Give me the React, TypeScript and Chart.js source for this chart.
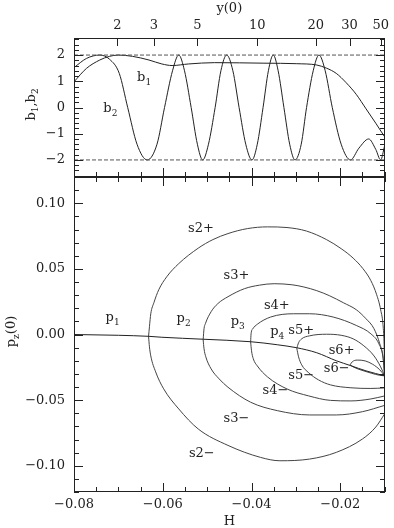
import React, { useEffect, useRef } from 'react';
import { Chart, registerables } from 'chart.js';

Chart.register(...registerables);

const FONT_FAMILY = '"DejaVu Serif", "Liberation Serif", serif';
const INK = '#222222';

// ---------- axes ----------
const hRange = [-0.08, -0.01];
const bRange = [-2.65, 2.65];
const pRange = [-0.12, 0.12];
const hTickValues = [-0.08, -0.06, -0.04, -0.02];
const hTickLabels = ['−0.08', '−0.06', '−0.04', '−0.02'];
const bTickValues = [-2, -1, 0, 1, 2];
const bTickLabels = ['−2', '−1', '0', '1', '2'];
const pTickValues = [-0.1, -0.05, 0, 0.05, 0.1];
const pTickLabels = ['−0.10', '−0.05', '0.00', '0.05', '0.10'];
const y0TickLabels = ['2', '3', '5', '10', '20', '30', '50'];
const y0TickH = [-0.0702, -0.062, -0.0522, -0.0387, -0.0255, -0.0179, -0.0109];

// ---------- top panel: b1, b2 vs H ----------
const b1H = [-0.08, -0.0772, -0.0742, -0.072, -0.07, -0.0668, -0.0631, -0.0602, -0.0579, -0.0542, -0.0483, -0.0372, -0.0298, -0.0253, -0.0231, -0.0209, -0.0187, -0.0164, -0.0142, -0.012, -0.01];
const b1Val = [0.98, 1.49, 1.81, 1.95, 2.0, 1.95, 1.81, 1.66, 1.6, 1.66, 1.71, 1.69, 1.67, 1.62, 1.5, 1.3, 0.95, 0.5, -0.05, -0.6, -1.12];

const b2H = [-0.08, -0.0772, -0.0742, -0.072, -0.0698, -0.0679, -0.0658, -0.0635, -0.0613, -0.0596, -0.0578, -0.0564, -0.0551, -0.0536, -0.0522, -0.051, -0.0497, -0.0482, -0.0469, -0.0456, -0.0442, -0.0428, -0.0413, -0.0399, -0.0387, -0.0374, -0.0362, -0.0351, -0.034, -0.0327, -0.0314, -0.0302, -0.0288, -0.0276, -0.0261, -0.0248, -0.0234, -0.0218, -0.0198, -0.0177, -0.0158, -0.0136, -0.012, -0.0109, -0.01];
const b2Val = [1.52, 1.87, 2.0, 1.84, 1.3, 0.0, -1.4, -2.0, -1.4, 0.0, 1.4, 2.0, 1.4, 0.0, -1.4, -2.0, -1.4, 0.0, 1.4, 2.0, 1.4, 0.0, -1.4, -2.0, -1.4, 0.0, 1.4, 2.0, 1.4, 0.0, -1.4, -2.0, -1.4, 0.0, 1.4, 2.0, 1.4, 0.0, -1.4, -2.0, -1.55, -1.2, -1.6, -2.0, -1.45];

const limitH = [-0.08, -0.01];
const upperLimit = [2, 2];
const lowerLimit = [-2, -2];

// ---------- bottom panel: pz(0) vs H ----------
const mainH = [-0.08, -0.07, -0.0631, -0.0602, -0.0509, -0.0402, -0.0342, -0.0298, -0.0253, -0.0209, -0.0176, -0.0142, -0.01];
const mainP = [0.0, -0.0006, -0.0014, -0.0021, -0.0036, -0.0055, -0.0078, -0.0101, -0.0139, -0.02, -0.0238, -0.0277, -0.0315];

const s2PlusH = [-0.0632, -0.063, -0.0627, -0.062, -0.0609, -0.0591, -0.0564, -0.052, -0.0487, -0.0453, -0.0409, -0.0364, -0.032, -0.0276, -0.0231, -0.0198, -0.0171, -0.0149, -0.0131, -0.0118, -0.0109, -0.0103, -0.0101, -0.01];
const s2PlusP = [-0.0014, 0.0059, 0.0158, 0.0242, 0.0341, 0.044, 0.054, 0.0658, 0.0723, 0.0769, 0.0807, 0.082, 0.0815, 0.0788, 0.0723, 0.0654, 0.0582, 0.0502, 0.041, 0.0303, 0.0188, 0.0044, -0.0109, -0.0315];
const s2MinusH = [-0.0632, -0.063, -0.0627, -0.0616, -0.0598, -0.0564, -0.052, -0.0453, -0.038, -0.0336, -0.0269, -0.0209, -0.015, -0.012, -0.01];
const s2MinusP = [-0.0014, -0.0094, -0.0163, -0.0285, -0.0414, -0.0567, -0.072, -0.0845, -0.0936, -0.0962, -0.0949, -0.0898, -0.0796, -0.0705, -0.0605];

const s3PlusH = [-0.0509, -0.0507, -0.0504, -0.0491, -0.0476, -0.0453, -0.0416, -0.0382, -0.0349, -0.0309, -0.0282, -0.0253, -0.0224, -0.0193, -0.0164, -0.0142, -0.0124, -0.0111, -0.0103, -0.01];
const s3PlusP = [-0.004, 0.0044, 0.0082, 0.0174, 0.0235, 0.0288, 0.0349, 0.0376, 0.0387, 0.0379, 0.0362, 0.0334, 0.0295, 0.0242, 0.0189, 0.012, 0.0044, -0.0071, -0.0185, -0.0315];
const s3MinusH = [-0.0509, -0.0507, -0.0503, -0.0491, -0.0473, -0.0453, -0.0402, -0.0342, -0.0269, -0.0209, -0.015, -0.01];
const s3MinusP = [-0.004, -0.0109, -0.017, -0.0262, -0.0338, -0.0402, -0.0516, -0.058, -0.0613, -0.0613, -0.0588, -0.054];

const s4PlusH = [-0.0402, -0.0401, -0.0397, -0.0387, -0.0357, -0.0305, -0.0269, -0.0216, -0.0164, -0.0131, -0.0113, -0.0104, -0.01];
const s4PlusP = [-0.0056, 0.0005, 0.0044, 0.0078, 0.0133, 0.0158, 0.0158, 0.0133, 0.0069, 0.0005, -0.0071, -0.017, -0.0315];
const s4MinusH = [-0.0402, -0.04, -0.0396, -0.0387, -0.0364, -0.032, -0.0271, -0.0222, -0.0176, -0.0131, -0.01];
const s4MinusP = [-0.0056, -0.0124, -0.0185, -0.0239, -0.0323, -0.0415, -0.0468, -0.0502, -0.0506, -0.0491, -0.0468];

const s5PlusH = [-0.0298, -0.0294, -0.0287, -0.0269, -0.0231, -0.0198, -0.0171, -0.0147, -0.0124, -0.0109, -0.01];
const s5PlusP = [-0.0105, -0.0063, -0.0033, -0.001, 0.0002, -0.0006, -0.0033, -0.0086, -0.0163, -0.0247, -0.0315];
const s5MinusH = [-0.0298, -0.0294, -0.0287, -0.0271, -0.0249, -0.0222, -0.0176, -0.0131, -0.01];
const s5MinusP = [-0.0105, -0.017, -0.0231, -0.0292, -0.0346, -0.0384, -0.0406, -0.0411, -0.0407];

const s6PlusH = [-0.0178, -0.0173, -0.0162, -0.0144, -0.0127, -0.0111, -0.01];
const s6PlusP = [-0.0231, -0.0208, -0.0195, -0.0201, -0.0227, -0.0269, -0.0315];
const s6MinusH = [-0.0178, -0.0169, -0.0151, -0.0129, -0.0111, -0.01];
const s6MinusP = [-0.0231, -0.025, -0.0273, -0.0296, -0.0311, -0.0315];

// ---------- in-plot labels (text, subscript, H, value at baseline) ----------
const topLabelText = ['b', 'b'];
const topLabelSub = ['1', '2'];
const topLabelH = [-0.0642, -0.0718];
const topLabelVal = [1.01, -0.17];

const botLabelText = ['p', 'p', 'p', 'p', 's2+', 's3+', 's4+', 's5+', 's6+', 's6−', 's5−', 's4−', 's3−', 's2−'];
const botLabelSub = ['1', '2', '3', '4', '', '', '', '', '', '', '', '', '', ''];
const botLabelH = [-0.0713, -0.0553, -0.0431, -0.0342, -0.0514, -0.0434, -0.0343, -0.0288, -0.0197, -0.0208, -0.0288, -0.0346, -0.0434, -0.0512];
const botLabelVal = [0.0105, 0.0097, 0.0074, -0.0002, 0.0784, 0.0425, 0.0196, 0.0005, -0.0147, -0.0285, -0.0338, -0.0452, -0.0666, -0.0933];

const pts = (hs: number[], vs: number[]) => hs.map((h, i) => ({ x: h, y: vs[i] }));

function drawParts(ctx: CanvasRenderingContext2D, parts: [string, string][], cx: number, baseY: number, size: number) {
  const big = `${size}px ${FONT_FAMILY}`;
  const small = `${Math.round(size * 0.7)}px ${FONT_FAMILY}`;
  let total = 0;
  const widths: [number, number][] = parts.map(([t, s]) => {
    ctx.font = big;
    const w1 = ctx.measureText(t).width;
    ctx.font = small;
    const w2 = s ? ctx.measureText(s).width : 0;
    total += w1 + w2;
    return [w1, w2];
  });
  let x = cx - total / 2;
  ctx.textAlign = 'left';
  ctx.textBaseline = 'alphabetic';
  parts.forEach(([t, s], i) => {
    ctx.font = big;
    ctx.fillText(t, x, baseY);
    x += widths[i][0];
    if (s) {
      ctx.font = small;
      ctx.fillText(s, x, baseY + size * 0.3);
      x += widths[i][1];
    }
  });
}

const decorPlugin = {
  id: 'decor',
  afterDraw(chart: any) {
    const { ctx, scales } = chart;
    const xs = scales.x;
    const yT = scales.yTop;
    const yB = scales.yBot;
    const L = Math.round(xs.left);
    const R = Math.round(xs.right);
    ctx.save();
    ctx.strokeStyle = INK;
    ctx.fillStyle = INK;
    ctx.lineWidth = 1;
    const seg = (a: number, b: number, c: number, d: number) => {
      ctx.beginPath();
      ctx.moveTo(a, b);
      ctx.lineTo(c, d);
      ctx.stroke();
    };
    const tT = Math.round(yT.top), tB = Math.round(yT.bottom), bT = Math.round(yB.top), bB = Math.round(yB.bottom);
    // frames
    seg(L + 0.5, tT, L + 0.5, bB);
    seg(R - 0.5, tT, R - 0.5, bB);
    seg(L, tT + 0.5, R, tT + 0.5);
    seg(L, bB - 0.5, R, bB - 0.5);
    ctx.fillRect(L, tB - 1, R - L, 2);

    // H ticks
    const hCount = Math.round((hRange[1] - hRange[0]) / 0.005);
    for (let k = 0; k <= hCount; k++) {
      const v = hRange[0] + k * 0.005;
      const major = Math.abs(v / 0.02 - Math.round(v / 0.02)) < 1e-6;
      const len = major ? 9 : 5;
      const px = Math.round(xs.getPixelForValue(v)) + 0.5;
      seg(px, bB, px, bB - len);
      seg(px, bT, px, bT + len);
      seg(px, tB, px, tB - len);
    }
    // y(0) ticks on top
    y0TickH.forEach((h) => {
      const px = Math.round(xs.getPixelForValue(h)) + 0.5;
      seg(px, tT, px, tT + 8);
    });
    // b ticks
    for (let k = -14; k <= 14; k++) {
      const v = k * 0.2;
      if (v < bRange[0] || v > bRange[1]) continue;
      const major = k % 5 === 0;
      const len = major ? 9 : 5;
      const py = Math.round(yT.getPixelForValue(v)) + 0.5;
      seg(L, py, L + len, py);
      seg(R, py, R - len, py);
    }
    // p ticks
    for (let k = -12; k <= 12; k++) {
      const v = k * 0.01;
      if (v < pRange[0] - 1e-9 || v > pRange[1] + 1e-9) continue;
      const major = k % 5 === 0;
      const len = major ? 9 : 5;
      const py = Math.round(yB.getPixelForValue(v)) + 0.5;
      seg(L, py, L + len, py);
      seg(R, py, R - len, py);
    }

    // in-plot labels
    topLabelText.forEach((t, i) => {
      drawParts(ctx, [[t, topLabelSub[i]]], xs.getPixelForValue(topLabelH[i]), yT.getPixelForValue(topLabelVal[i]), 13);
    });
    botLabelText.forEach((t, i) => {
      drawParts(ctx, [[t, botLabelSub[i]]], xs.getPixelForValue(botLabelH[i]), yB.getPixelForValue(botLabelVal[i]), 13);
    });

    // rotated y-axis titles
    ctx.save();
    ctx.translate(34.5, (yT.top + yT.bottom) / 2 - 3);
    ctx.rotate(-Math.PI / 2);
    drawParts(ctx, [['b', '1'], [',', ''], ['b', '2']], 0, 0, 13);
    ctx.restore();
    ctx.save();
    ctx.translate(15, (yB.top + yB.bottom) / 2 - 3);
    ctx.rotate(-Math.PI / 2);
    drawParts(ctx, [['p', 'z'], ['(0)', '']], 0, 0, 13);
    ctx.restore();

    ctx.restore();
  },
};

const tickFont = { family: FONT_FAMILY, size: 13 };
const noGrid = { display: false, drawTicks: false };

export default function App() {
  const ref = useRef<HTMLCanvasElement>(null);
  useEffect(() => {
    if (!ref.current) return;
    const line = (data: any[], yAxisID: string, color = '#2a2a2a', extra: any = {}) => ({
      data,
      yAxisID,
      xAxisID: 'x',
      showLine: true,
      borderColor: color,
      borderWidth: 1,
      pointRadius: 0,
      fill: false,
      ...extra,
    });
    const curve = { cubicInterpolationMode: 'monotone' };
    const datasets = [
      line(pts(limitH, upperLimit), 'yTop', '#555', { borderDash: [4, 2] }),
      line(pts(limitH, lowerLimit), 'yTop', '#555', { borderDash: [4, 2] }),
      line(pts(b1H, b1Val), 'yTop', '#222', curve),
      line(pts(b2H, b2Val), 'yTop', '#222', curve),
      line(pts(mainH, mainP), 'yBot', '#222', curve),
      line(pts(s2PlusH, s2PlusP), 'yBot', '#444', curve),
      line(pts(s2MinusH, s2MinusP), 'yBot', '#444', curve),
      line(pts(s3PlusH, s3PlusP), 'yBot', '#444', curve),
      line(pts(s3MinusH, s3MinusP), 'yBot', '#444', curve),
      line(pts(s4PlusH, s4PlusP), 'yBot', '#444', curve),
      line(pts(s4MinusH, s4MinusP), 'yBot', '#444', curve),
      line(pts(s5PlusH, s5PlusP), 'yBot', '#444', curve),
      line(pts(s5MinusH, s5MinusP), 'yBot', '#444', curve),
      line(pts(s6PlusH, s6PlusP), 'yBot', '#444', curve),
      line(pts(s6MinusH, s6MinusP), 'yBot', '#444', curve),
    ];
    const chart = new Chart(ref.current, {
      type: 'scatter',
      data: { datasets },
      options: {
        responsive: false,
        animation: false,
        events: [],
        layout: { padding: { left: 0, right: 5, top: 0, bottom: 0 } },
        plugins: { legend: { display: false }, tooltip: { enabled: false }, title: { display: false } },
        scales: {
          x: {
            type: 'linear',
            position: 'bottom',
            min: hRange[0],
            max: hRange[1],
            grid: noGrid,
            border: { display: false },
            afterBuildTicks: (s: any) => { s.ticks = hTickValues.map((v) => ({ value: v })); },
            ticks: { callback: (_v: any, i: number) => hTickLabels[i], font: tickFont, color: INK, padding: 5, maxRotation: 0, autoSkip: false },
            title: { display: true, text: 'H', font: { family: FONT_FAMILY, size: 13, lineHeight: 1 }, color: INK, padding: { top: 0, bottom: 0 } },
            afterFit: (s: any) => { s.height = 36; },
          },
          x2: {
            type: 'linear',
            position: 'top',
            min: hRange[0],
            max: hRange[1],
            grid: noGrid,
            border: { display: false },
            afterBuildTicks: (s: any) => { s.ticks = y0TickH.map((v) => ({ value: v })); },
            ticks: { callback: (_v: any, i: number) => y0TickLabels[i], font: tickFont, color: INK, padding: 5, maxRotation: 0, autoSkip: false },
            title: { display: true, text: 'y(0)', font: { family: FONT_FAMILY, size: 13, lineHeight: 1 }, color: INK, padding: { top: 2.5, bottom: 0 } },
            afterFit: (s: any) => { s.height = 38; },
          },
          yBot: {
            type: 'linear',
            position: 'left',
            stack: 'panels',
            stackWeight: 315,
            min: pRange[0],
            max: pRange[1],
            grid: noGrid,
            border: { display: false },
            afterBuildTicks: (s: any) => { s.ticks = pTickValues.map((v) => ({ value: v })); },
            ticks: { callback: (_v: any, i: number) => pTickLabels[i], font: tickFont, color: INK, padding: 9, autoSkip: false },
            afterFit: (s: any) => { s.width = 74; },
          },
          yTop: {
            type: 'linear',
            position: 'left',
            stack: 'panels',
            stackWeight: 139,
            min: bRange[0],
            max: bRange[1],
            grid: noGrid,
            border: { display: false },
            afterBuildTicks: (s: any) => { s.ticks = bTickValues.map((v) => ({ value: v })); },
            ticks: { callback: (_v: any, i: number) => bTickLabels[i], font: tickFont, color: INK, padding: 9, autoSkip: false },
            afterFit: (s: any) => { s.width = 74; },
          },
        },
      } as any,
      plugins: [decorPlugin],
    });
    return () => chart.destroy();
  }, []);
  return (
    <div style={{ position: 'absolute', left: 0, top: 0, width: 394, height: 528, background: '#ffffff' }}>
      <canvas ref={ref} width={394} height={528} style={{ display: 'block', width: 394, height: 528 }} />
    </div>
  );
}
